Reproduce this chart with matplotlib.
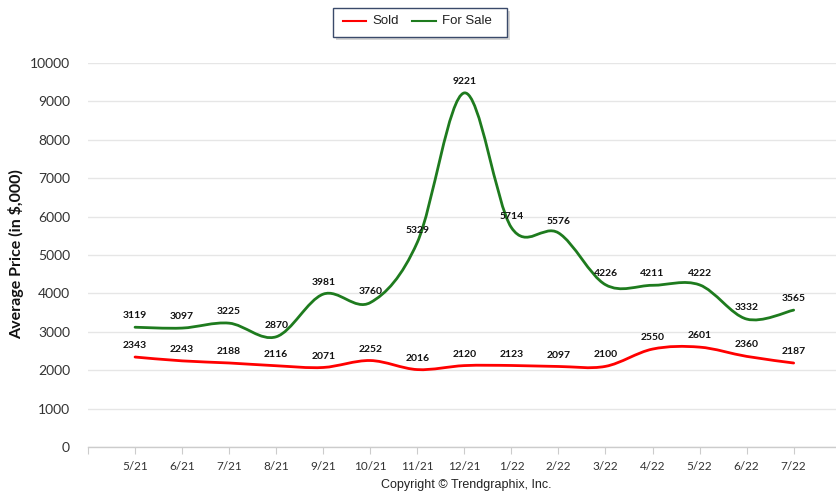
import numpy as np
import matplotlib
matplotlib.use("Agg")
import matplotlib.pyplot as plt
from matplotlib.path import Path
from matplotlib.patches import PathPatch, FancyBboxPatch
from matplotlib.lines import Line2D

months = ["5/21", "6/21", "7/21", "8/21", "9/21", "10/21", "11/21", "12/21",
          "1/22", "2/22", "3/22", "4/22", "5/22", "6/22", "7/22"]
sold = [2343, 2243, 2188, 2116, 2071, 2252, 2016, 2120, 2123, 2097, 2100, 2550, 2601, 2360, 2187]
for_sale = [3119, 3097, 3225, 2870, 3981, 3760, 5329, 9221, 5714, 5576, 4226, 4211, 4222, 3332, 3565]
yticks = [0, 1000, 2000, 3000, 4000, 5000, 6000, 7000, 8000, 9000, 10000]

lab_font = "Lato"

fig = plt.figure(figsize=(8.36, 4.93), dpi=100)
ax = fig.add_axes([88/836, 1-447/493, (836-88)/836, (447-63)/493])


def smooth_path(xs, ys):
    # Catmull-Rom style smoothing (like spreadsheet "smoothed line")
    n = len(xs)
    P = np.column_stack([xs, ys]).astype(float)
    verts = [tuple(P[0])]
    codes = [Path.MOVETO]
    for i in range(n - 1):
        p0 = P[i - 1] if i > 0 else P[i]
        p1 = P[i]
        p2 = P[i + 1]
        p3 = P[i + 2] if i + 2 < n else P[i + 1]
        c1 = p1 + (p2 - p0) / 6.0
        c2 = p2 - (p3 - p1) / 6.0
        verts += [tuple(c1), tuple(c2), tuple(p2)]
        codes += [Path.CURVE4] * 3
    return Path(verts, codes)


x = np.arange(len(months))
for vals, col in [(sold, "#ff0000"), (for_sale, "#1e7b1e")]:
    p = smooth_path(list(x), list(vals))
    ax.add_patch(PathPatch(p, facecolor="none", edgecolor=col, lw=2, zorder=3,
                           clip_on=False, capstyle="round", joinstyle="round"))
    for xi, v in zip(x, vals):
        ax.annotate(str(v), (xi, v), xytext=(0, 5), textcoords="offset points",
                    ha="center", va="bottom", fontsize=7.5, fontweight="bold",
                    family=lab_font, color="#111111", zorder=5)

ax.set_xlim(-1, 14.9)
ax.set_ylim(0, 10000)
ax.set_yticks(yticks)
ax.set_yticklabels([str(t) for t in yticks], family=lab_font, fontsize=10, color="#333333")
ax.set_xticks(list(range(-1, len(months))))
ax.set_xticklabels([""] + months, family=lab_font, fontsize=8.5, color="#333333")
ax.tick_params(axis="x", length=5, color="#cccccc", pad=5)
ax.tick_params(axis="y", length=0, pad=13)
ax.grid(axis="y", color="#e6e6e6", lw=1)
ax.set_axisbelow(True)
for s in ["top", "right", "left"]:
    ax.spines[s].set_visible(False)
ax.spines["bottom"].set_color("#cccccc")
ax.spines["bottom"].set_linewidth(1)

fig.text(16/836, 1-254/493, "Average Price (in $,000)", rotation=90, ha="center", va="center",
         fontsize=11.5, fontweight="bold", family=lab_font, color="#111111")
fig.text(466/836, 1-485/493, "Copyright \u00a9 Trendgraphix, Inc.", ha="center", va="center",
         fontsize=9, family="Liberation Sans", color="#222222")

# legend box
shadow = FancyBboxPatch((336/836, 1-40/493), 174/836, 29/493, boxstyle="square,pad=0",
                        transform=fig.transFigure, facecolor="#bbbbbb", edgecolor="none", alpha=0.6)
box = FancyBboxPatch((333/836, 1-37/493), 174/836, 29/493, boxstyle="square,pad=0",
                     transform=fig.transFigure, facecolor="white", edgecolor="#3a4a6a", lw=1)
fig.patches.extend([shadow, box])
ly = 1-21/493
fig.lines.append(Line2D([343/836, 366/836], [ly, ly], transform=fig.transFigure, color="#ff0000", lw=1.5))
fig.text(372/836, ly, "Sold", ha="left", va="center", fontsize=9.5, family="Liberation Sans", color="#222222")
fig.lines.append(Line2D([412/836, 436/836], [ly, ly], transform=fig.transFigure, color="#1e7b1e", lw=1.5))
fig.text(442/836, ly, "For Sale", ha="left", va="center", fontsize=9.5, family="Liberation Sans", color="#222222")

fig.savefig("out.png", dpi=100)
